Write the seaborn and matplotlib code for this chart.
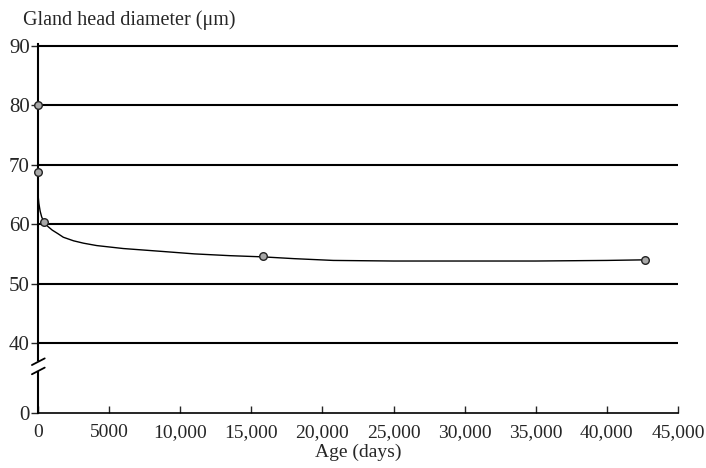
import numpy as np
import pandas as pd
import matplotlib
matplotlib.use("Agg")
import matplotlib.pyplot as plt
import seaborn as sns

# Datos
age_points = [0, 0, 420, 15800, 42680]
diam_points = [80.0, 68.8, 60.4, 54.6, 54.0]

# Curva ajustada
curve_age = [0, 60, 150, 260, 420, 700, 1000, 1400, 1780, 2500, 3200, 4125,
             6000, 8810, 11000, 13500, 15800, 18000, 20760, 25000, 30140,
             35000, 40000, 42680]
curve_diam = [65.0, 63.5, 62.2, 61.2, 60.4, 59.6, 59.0, 58.4, 57.8, 57.2,
              56.8, 56.4, 55.9, 55.4, 55.0, 54.7, 54.5, 54.2, 53.9, 53.8,
              53.8, 53.8, 53.9, 54.0]

y_ticks = [0, 40, 50, 60, 70, 80, 90]
x_ticks = [0, 5000, 10000, 15000, 20000, 25000, 30000, 35000, 40000, 45000]
x_labels = ["0", "5000", "10,000", "15,000", "20,000", "25,000", "30,000",
            "35,000", "40,000", "45,000"]

points = pd.DataFrame({"age": age_points, "diam": diam_points})
curve = pd.DataFrame({"age": curve_age, "diam": curve_diam})

sns.set_style("white")
plt.rcParams["font.family"] = ["Liberation Serif", "DejaVu Serif"]

# Escala con eje cortado entre 0 y 40
k = 0.294


def fwd(y):
    y = np.asarray(y, dtype=float)
    return np.where(y >= 40, y, 40 - (40 - y) * k)


def inv(y):
    y = np.asarray(y, dtype=float)
    return np.where(y >= 40, y, 40 - (40 - y) / k)


fig = plt.figure(figsize=(7.06, 4.68), dpi=100)
ax = fig.add_axes([38 / 706, 1 - 413 / 468, 640 / 706, (413 - 44) / 468])
ax.set_yscale("function", functions=(fwd, inv))

for yv in y_ticks[1:]:
    ax.axhline(yv, color="black", lw=1.5, zorder=1)

sns.lineplot(data=curve, x="age", y="diam", color="black", lw=1.0, ax=ax,
             zorder=3)
sns.scatterplot(data=points, x="age", y="diam", s=30, color="#a8a8a8",
                edgecolor="#222222", linewidth=1.0, ax=ax, zorder=4,
                clip_on=False)

ax.set_xlim(0, 45000)
ax.set_ylim(0, 90.3)
ax.set_yticks(y_ticks)
ax.set_yticklabels([str(v) for v in y_ticks], fontsize=15)
ax.set_xticks(x_ticks)
ax.set_xticklabels(x_labels, fontsize=14)
ax.tick_params(axis="x", direction="in", length=5, width=1, pad=8,
               bottom=True)
ax.tick_params(axis="y", direction="out", length=5, width=1, pad=1, left=True)

for s in ["top", "right"]:
    ax.spines[s].set_visible(False)
ax.spines["left"].set_linewidth(1.5)
ax.spines["bottom"].set_linewidth(1.2)
ax.spines["left"].set_color("black")
ax.spines["bottom"].set_color("black")

ax.set_xlabel("Age (days)", fontsize=14, labelpad=2)
ax.set_ylabel("")

# Marcas de corte en el eje y
ax.plot([0, 0], [0.118, 0.135], transform=ax.transAxes, color="white",
        lw=3, clip_on=False, zorder=5)
for yb in [0.139, 0.114]:
    ax.plot([-0.0095, 0.0105], [yb - 0.009, yb + 0.009],
            transform=ax.transAxes, color="black", lw=1.3, clip_on=False,
            zorder=6)

fig.text(23 / 706, 1 - 20 / 468, "Gland head diameter (μm)", fontsize=14.5,
         va="center", ha="left")

fig.savefig("out.png", dpi=100)
